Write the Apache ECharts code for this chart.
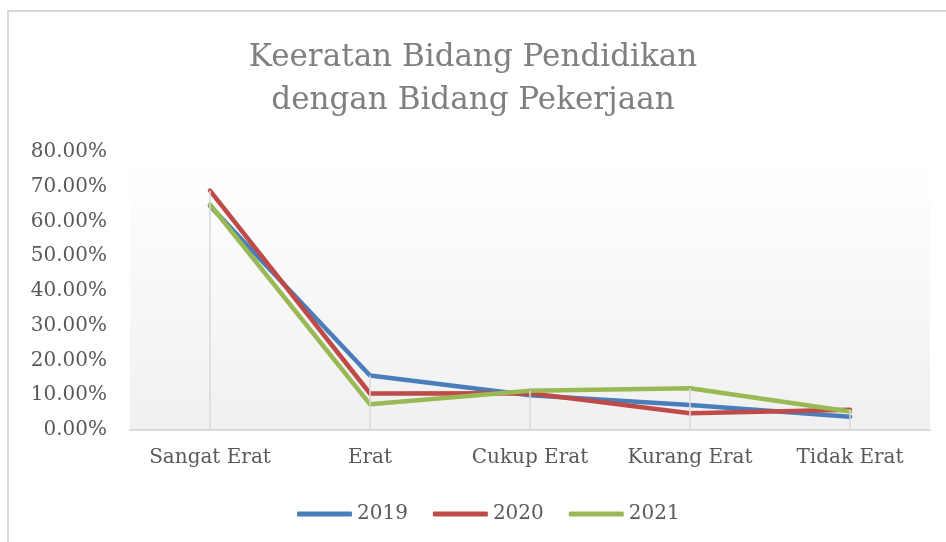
<!DOCTYPE html>
<html>
<head>
<meta charset="utf-8">
<script src="https://cdn.jsdelivr.net/npm/echarts@6/dist/echarts.min.js"></script>
<style>
  html, body { margin: 0; padding: 0; background: #fff; }
  #chart { width: 946px; height: 542px; }
</style>
</head>
<body>
<div id="chart"></div>
<script>
const categories = ['Sangat Erat', 'Erat', 'Cukup Erat', 'Kurang Erat', 'Tidak Erat']
const years = ['2019', '2020', '2021']
// values in percent
const data2019 = [64.5, 15.7, 10.0, 7.2, 3.8]
const data2020 = [68.9, 10.5, 10.6, 4.8, 5.8]
const data2021 = [64.9, 7.4, 11.3, 12.0, 5.3]
const colors = ['#4a7ebb', '#be4b48', '#98b954']

const font = 'DejaVu Serif'
const allSeries = [data2019, data2020, data2021]

// drop lines: from highest point of each category down to the axis
const dropLines = categories.map((c, i) => {
  const top = Math.max(...allSeries.map(s => s[i]))
  return [{ coord: [c, top] }, { coord: [c, 0] }]
})

const chart = echarts.init(document.getElementById('chart'))

chart.setOption({
  animation: false,
  color: colors,
  graphic: [{
    type: 'rect',
    shape: { x: 8, y: 11, width: 1000, height: 700 },
    style: { fill: 'none', stroke: '#d9d9d9', lineWidth: 2 },
    silent: true
  }],
  title: {
    text: 'Keeratan Bidang Pendidikan\ndengan Bidang Pekerjaan',
    left: 'center',
    top: 36,
    padding: 0,
    textStyle: {
      fontFamily: font,
      fontSize: 31,
      fontWeight: 'normal',
      color: '#7f7f7f',
      lineHeight: 43
    }
  },
  legend: {
    data: years,
    top: 499,
    left: 292,
    icon: 'roundRect',
    itemWidth: 55,
    itemHeight: 5,
    itemGap: 25,
    textStyle: {
      fontFamily: font,
      fontSize: 20,
      color: '#595959'
    }
  },
  grid: {
    left: 130,
    right: 16,
    top: 152,
    bottom: 112,
    show: true,
    borderWidth: 0,
    backgroundColor: new echarts.graphic.LinearGradient(0, 0, 0, 1, [
      { offset: 0, color: '#ffffff' },
      { offset: 0.15, color: '#fdfdfd' },
      { offset: 1, color: '#f0f0f0' }
    ])
  },
  xAxis: {
    type: 'category',
    data: categories,
    boundaryGap: true,
    axisLine: { lineStyle: { color: '#d9d9d9', width: 2 } },
    axisTick: { show: false },
    splitLine: { show: false },
    axisLabel: {
      interval: 0,
      fontFamily: font,
      fontSize: 20,
      color: '#595959',
      margin: 18
    }
  },
  yAxis: {
    type: 'value',
    min: 0,
    max: 80,
    interval: 10,
    axisLine: { show: false },
    axisTick: { show: false },
    splitLine: { show: false },
    axisLabel: {
      fontFamily: font,
      fontSize: 20,
      color: '#595959',
      margin: 23,
      formatter: v => v.toFixed(2) + '%'
    }
  },
  series: [{
    name: 'drop',
    type: 'line',
    data: [],
    silent: true,
    z: 1,
    markLine: {
      silent: true,
      symbol: 'none',
      label: { show: false },
      lineStyle: { color: '#d9d9d9', width: 1.5, type: 'solid' },
      data: dropLines
    }
  }].concat(years.map((y, i) => ({
    name: y,
    type: 'line',
    data: allSeries[i],
    symbol: 'none',
    z: 2 + i,
    lineStyle: { width: 4.5, color: colors[i], cap: 'round', join: 'round' },
    itemStyle: { color: colors[i] }
  })))
})
</script>
</body>
</html>
